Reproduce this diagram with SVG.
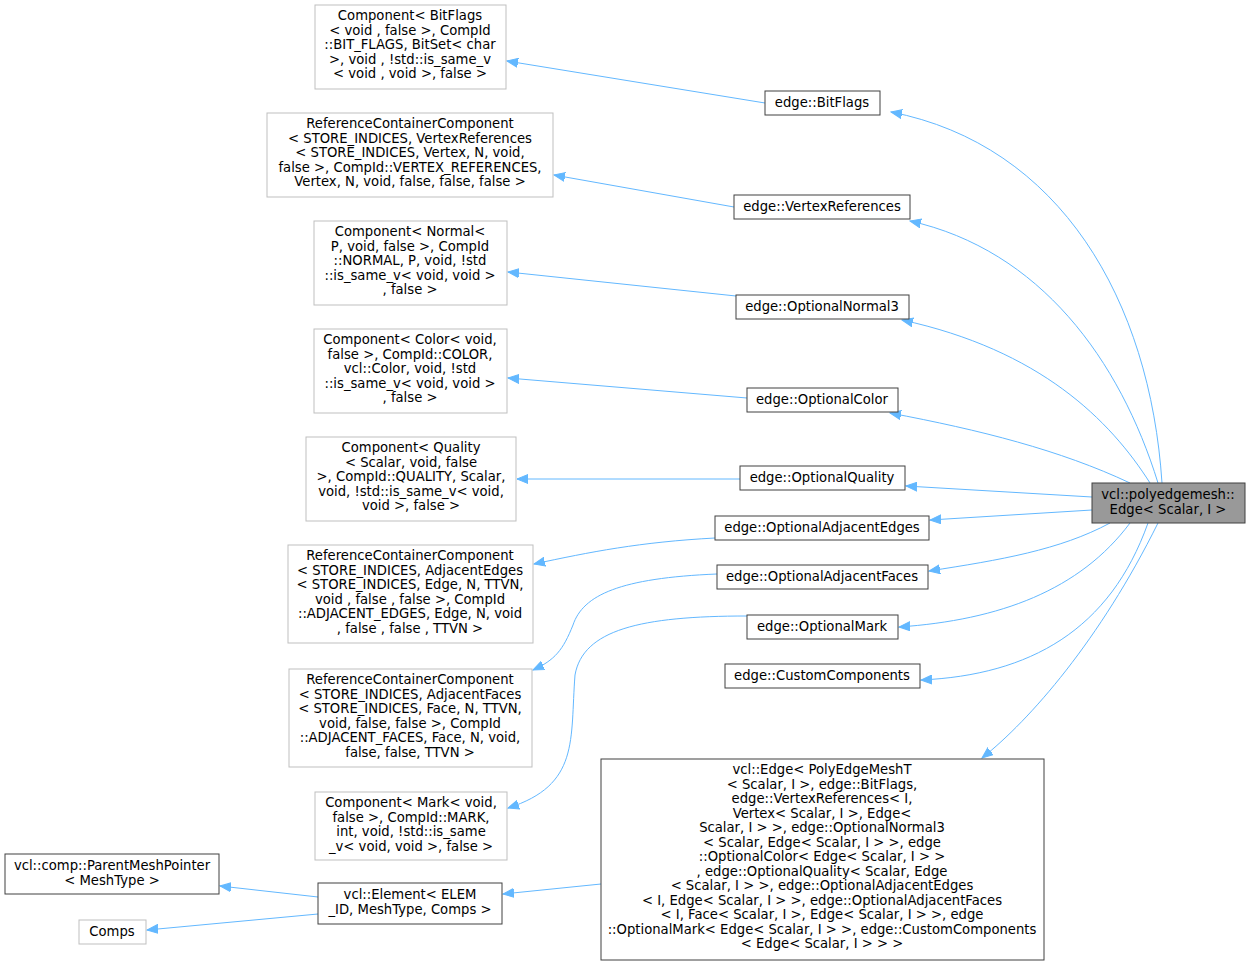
<svg xmlns="http://www.w3.org/2000/svg" width="1251" height="965" viewBox="0 0 1251 965">
<style>
text{font-family:"DejaVu Sans",sans-serif;font-size:13.2px;fill:#000;text-anchor:middle}
.g rect{fill:#fff;stroke:#bfbfbf;stroke-width:1}
.n rect{fill:#fff;stroke:#404040;stroke-width:1}
#main rect{fill:#999;stroke:#404040}
#edges path{fill:none;stroke:#63b8ff;stroke-width:1;marker-end:url(#ah)}
</style>
<defs><marker id="ah" markerWidth="12" markerHeight="10" refX="11" refY="5" orient="auto" markerUnits="userSpaceOnUse"><path d="M0,0.5 L11,5 L0,9.5 Z" fill="#63b8ff" stroke="#63b8ff"/></marker></defs>
<rect width="1251" height="965" fill="#fff"/>
<g id="edges">
<path d="M1162,483 C1150,300 1060,145 891,112"/>
<path d="M1158,483 C1120,360 1040,250 910,221"/>
<path d="M1150,483 C1110,420 1040,350 902,320"/>
<path d="M1130,483 C1060,450 980,430 890,413"/>
<path d="M1092,497 L906,486"/>
<path d="M1092,510 L930,520"/>
<path d="M1110,523 C1060,550 1000,560 929,571"/>
<path d="M1130,523 C1080,590 1000,620 899,627"/>
<path d="M1148,523 C1110,630 1030,675 921,680"/>
<path d="M1158,523 C1100,640 1030,720 982,758"/>
<path d="M765,103 L507,61"/>
<path d="M734,207 L554,175"/>
<path d="M736,296 L508,272"/>
<path d="M747,398 L508,378"/>
<path d="M740,479 L517,479"/>
<path d="M715,538 C640,542 590,552 534,564"/>
<path d="M717,574 C620,578 583,595 573,625 C563,650 555,660 533,670"/>
<path d="M747,616 C640,616 583,630 575,675 C570,740 580,785 508,808"/>
<path d="M601,884 L503,894"/>
<path d="M318,897 L220,886"/>
<path d="M318,914 L147,930"/>
</g>
<g id="n1" class="g"><rect x="315" y="5" width="191" height="84"/><text x="410" y="20">Component&lt; BitFlags</text><text x="410" y="35">&lt; void , false  &gt;, CompId</text><text x="410" y="49">::BIT_FLAGS, BitSet&lt; char</text><text x="410" y="64"> &gt;, void , !std::is_same_v</text><text x="410" y="78">&lt; void , void &gt;, false  &gt;</text></g>
<g id="n2" class="g"><rect x="267" y="113" width="286" height="84"/><text x="410" y="128">ReferenceContainerComponent</text><text x="410" y="143">&lt; STORE_INDICES, VertexReferences</text><text x="410" y="157">&lt; STORE_INDICES, Vertex, N, void,</text><text x="410" y="172"> false &gt;, CompId::VERTEX_REFERENCES,</text><text x="410" y="186"> Vertex, N, void, false, false, false &gt;</text></g>
<g id="n3" class="g"><rect x="314" y="221" width="193" height="84"/><text x="410" y="236">Component&lt; Normal&lt;</text><text x="410" y="251"> P, void, false &gt;, CompId</text><text x="410" y="265">::NORMAL, P, void, !std</text><text x="410" y="280">::is_same_v&lt; void, void &gt;</text><text x="410" y="294">, false &gt;</text></g>
<g id="n4" class="g"><rect x="314" y="329" width="193" height="84"/><text x="410" y="344">Component&lt; Color&lt; void,</text><text x="410" y="359"> false &gt;, CompId::COLOR,</text><text x="410" y="373"> vcl::Color, void, !std</text><text x="410" y="388">::is_same_v&lt; void, void &gt;</text><text x="410" y="402">, false &gt;</text></g>
<g id="n5" class="g"><rect x="306" y="437" width="210" height="84"/><text x="411" y="452">Component&lt; Quality</text><text x="411" y="467">&lt; Scalar, void, false</text><text x="411" y="481"> &gt;, CompId::QUALITY, Scalar,</text><text x="411" y="496"> void, !std::is_same_v&lt; void,</text><text x="411" y="510"> void &gt;, false &gt;</text></g>
<g id="n6" class="g"><rect x="288" y="545" width="245" height="98"/><text x="410" y="560">ReferenceContainerComponent</text><text x="410" y="575">&lt; STORE_INDICES, AdjacentEdges</text><text x="410" y="589">&lt; STORE_INDICES, Edge, N, TTVN,</text><text x="410" y="604"> void , false , false  &gt;, CompId</text><text x="410" y="618">::ADJACENT_EDGES, Edge, N, void</text><text x="410" y="633">, false , false , TTVN &gt;</text></g>
<g id="n7" class="g"><rect x="289" y="669" width="243" height="98"/><text x="410" y="684">ReferenceContainerComponent</text><text x="410" y="699">&lt; STORE_INDICES, AdjacentFaces</text><text x="410" y="713">&lt; STORE_INDICES, Face, N, TTVN,</text><text x="410" y="728"> void, false, false &gt;, CompId</text><text x="410" y="742">::ADJACENT_FACES, Face, N, void,</text><text x="410" y="757"> false, false, TTVN &gt;</text></g>
<g id="n8" class="g"><rect x="315" y="792" width="192" height="68"/><text x="411" y="807">Component&lt; Mark&lt; void,</text><text x="411" y="822"> false &gt;, CompId::MARK,</text><text x="411" y="836"> int, void, !std::is_same</text><text x="411" y="851">_v&lt; void, void &gt;, false &gt;</text></g>
<g id="n9" class="n"><rect x="5" y="854" width="214" height="40"/><text x="112" y="870">vcl::comp::ParentMeshPointer</text><text x="112" y="885">&lt; MeshType &gt;</text></g>
<g id="n10" class="g"><rect x="79" y="920" width="67" height="24"/><text x="112" y="936">Comps</text></g>
<g id="n11" class="n"><rect x="318" y="883" width="184" height="41"/><text x="410" y="899">vcl::Element&lt; ELEM</text><text x="410" y="914">_ID, MeshType, Comps &gt;</text></g>
<g id="n12" class="n"><rect x="601" y="759" width="443" height="201"/>
<text x="822" y="774">vcl::Edge&lt; PolyEdgeMeshT</text><text x="822" y="789">&lt; Scalar, I &gt;, edge::BitFlags,</text><text x="822" y="803"> edge::VertexReferences&lt; I,</text><text x="822" y="818"> Vertex&lt; Scalar, I &gt;, Edge&lt;</text><text x="822" y="832"> Scalar, I &gt; &gt;, edge::OptionalNormal3</text><text x="822" y="847">&lt; Scalar, Edge&lt; Scalar, I &gt; &gt;, edge</text><text x="822" y="861">::OptionalColor&lt; Edge&lt; Scalar, I &gt; &gt;</text><text x="822" y="876">, edge::OptionalQuality&lt; Scalar, Edge</text><text x="822" y="890">&lt; Scalar, I &gt; &gt;, edge::OptionalAdjacentEdges</text><text x="822" y="905">&lt; I, Edge&lt; Scalar, I &gt; &gt;, edge::OptionalAdjacentFaces</text><text x="822" y="919">&lt; I, Face&lt; Scalar, I &gt;, Edge&lt; Scalar, I &gt; &gt;, edge</text><text x="822" y="934">::OptionalMark&lt; Edge&lt; Scalar, I &gt; &gt;, edge::CustomComponents</text><text x="822" y="948">&lt; Edge&lt; Scalar, I &gt; &gt; &gt;</text></g>
<g id="r1" class="n"><rect x="765" y="91" width="115" height="24"/><text x="822" y="107">edge::BitFlags</text></g>
<g id="r2" class="n"><rect x="734" y="195" width="176" height="24"/><text x="822" y="211">edge::VertexReferences</text></g>
<g id="r3" class="n"><rect x="736" y="295" width="173" height="24"/><text x="822" y="311">edge::OptionalNormal3</text></g>
<g id="r4" class="n"><rect x="747" y="388" width="151" height="24"/><text x="822" y="404">edge::OptionalColor</text></g>
<g id="r5" class="n"><rect x="740" y="466" width="165" height="24"/><text x="822" y="482">edge::OptionalQuality</text></g>
<g id="r6" class="n"><rect x="715" y="516" width="214" height="24"/><text x="822" y="532">edge::OptionalAdjacentEdges</text></g>
<g id="r7" class="n"><rect x="717" y="565" width="211" height="24"/><text x="822" y="581">edge::OptionalAdjacentFaces</text></g>
<g id="r8" class="n"><rect x="747" y="615" width="151" height="24"/><text x="822" y="631">edge::OptionalMark</text></g>
<g id="r9" class="n"><rect x="725" y="664" width="195" height="24"/><text x="822" y="680">edge::CustomComponents</text></g>
<g id="main"><rect x="1092" y="483" width="153" height="40"/><text x="1168" y="499">vcl::polyedgemesh::</text><text x="1168" y="514">Edge&lt; Scalar, I &gt;</text></g>
</svg>
